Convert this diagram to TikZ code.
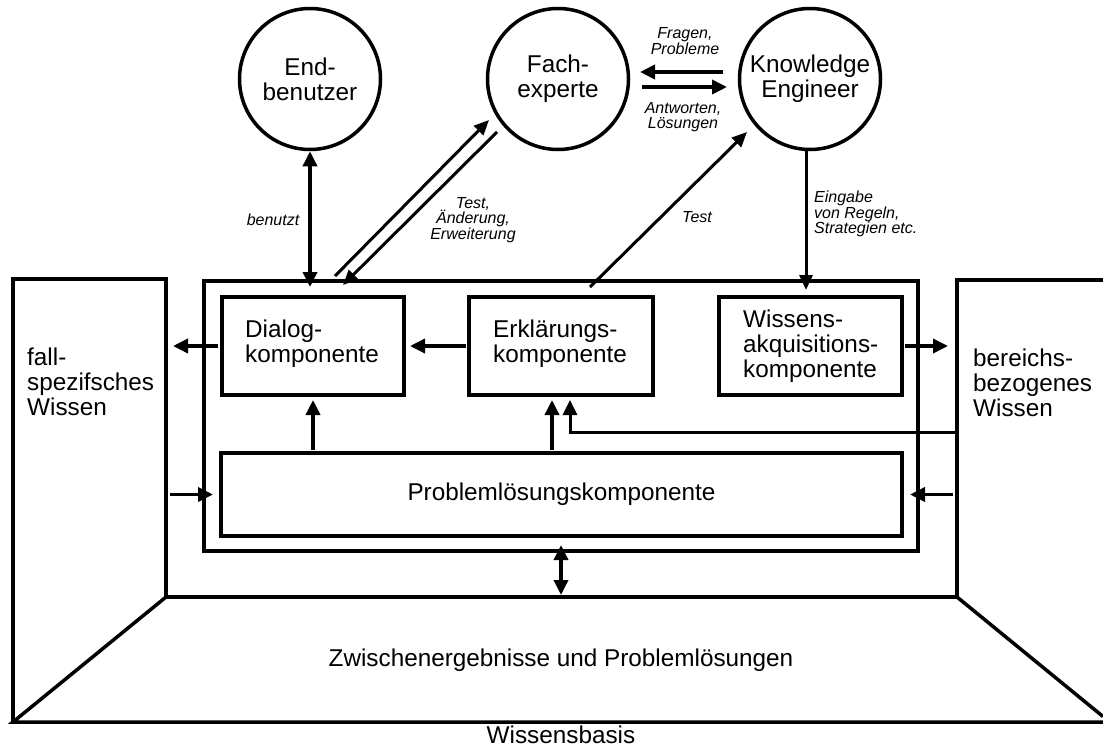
\documentclass[tikz,border=0pt]{standalone}
\usepackage{fontspec}
\setmainfont{Liberation Sans}
\usetikzlibrary{arrows.meta,calc}
\begin{document}
\begin{tikzpicture}[x=1pt,y=-1pt,
  lw/.style={line width=3.5pt},
  box/.style={draw,lw,rectangle,inner sep=0pt,outer sep=0pt},
  circ/.style={draw,lw,circle,minimum size=141pt,inner sep=0pt,align=center,font=\fontsize{24.3}{25}\selectfont},
  txt/.style={align=left,anchor=west,inner sep=0pt,font=\fontsize{24.3}{25}\selectfont},
  ctxt/.style={align=center,inner sep=0pt,font=\fontsize{24.3}{25}\selectfont},
  lbl/.style={inner sep=0pt,font=\fontsize{16}{15.5}\selectfont\itshape},
  arr/.style={line width=3.5pt,-{Triangle[length=15pt,width=14pt]}},
  darr/.style={line width=3.5pt,{Triangle[length=15pt,width=14pt]}-{Triangle[length=15pt,width=14pt]}},
  slim/.style={line width=3pt,-{Triangle[length=15pt,width=13pt]}}
]
\useasboundingbox (0,0) rectangle (1103,747);

% knowledge base (panels and floor)
\coordinate (fallR) at (166,279);
\coordinate (berL) at (957,280);
\draw[lw,line join=miter] (13,722) -- (13,279) -- (fallR) -- (166,597) -- (957,597) -- (berL) -- (1106,280);
\draw[lw] (166,597) -- (13,722) -- (1106,722);
\draw[lw] (957,597) -- (1103,716.5);
\node[txt] (fall) at (27,382) {fall-\\spezifsches\\Wissen};
\node[txt] (ber) at (973,383) {bereichs-\\bezogenes\\Wissen};
\node[ctxt] (zw) at (561,660) {Zwischenergebnisse und Probleml\"osungen};
\node[ctxt] (wb) at (561,735) {Wissensbasis};

% system box
\node[box,minimum width=714pt,minimum height=270pt] (sys) at (561,416) {};
\node[box,minimum width=182pt,minimum height=98pt] (dialog) at (313,346) {};
\node[box,minimum width=184pt,minimum height=98pt] (erkl) at (561,346) {};
\node[box,minimum width=183pt,minimum height=98pt] (wiss) at (810.5,346) {};
\node[box,minimum width=681pt,minimum height=83pt] (prob) at (561.5,494.5) {};
\node[txt] (dialogT) at (245,344) {Dialog-\\komponente};
\node[txt] (erklT) at (493,344) {Erkl\"arungs-\\komponente};
\node[txt] (wissT) at (743,346) {Wissens-\\akquisitions-\\komponente};
\node[ctxt] (probT) at (561.5,494) {Probleml\"osungskomponente};

% persons
\node[circ] (end) at (310,79) {End-\\benutzer};
\node[circ] (fach) at (558,79) {Fach-\\experte};
\node[circ] (ke) at (810,79) {Knowledge\\Engineer};

% internal arrows
\draw[arr,shorten <=4pt,shorten >=7pt] (dialog.west) -- (dialog.west -| fallR);
\draw[arr,shorten <=3pt,shorten >=6pt] (erkl.west) -- (dialog.east);
\draw[arr,shorten <=3pt,shorten >=9pt] (wiss.east) -- (wiss.east -| berL);
\draw[arr,shorten <=3pt,shorten >=5pt] (dialog.south |- prob.north) -- (dialog.south);
\draw[arr,shorten <=3pt,shorten >=5pt] ([xshift=-9pt]erkl.south |- prob.north) -- ([xshift=-9pt]erkl.south);
\coordinate (berIn) at (957,432);
\draw[arr,line width=3pt,shorten >=5pt] (berIn) -| ([xshift=9pt]erkl.south);
\draw[arr,shorten <=4pt,shorten >=8pt] (prob.west -| fallR) -- (prob.west);
\draw[arr,shorten <=4pt,shorten >=8pt] (prob.east -| berL) -- (prob.east);
\draw[darr,shorten <=-6pt,shorten >=2pt] (sys.south) -- (sys.south |- 0,597);

% outer connectors
\draw[darr,shorten >=-6pt] (end.south) -- (end.south |- sys.north);
\coordinate (d1a) at (335,276);
\coordinate (d1b) at (489,120);
\coordinate (d2a) at (497,132);
\coordinate (d2b) at (343,285);
\draw[slim] (d1a) -- (d1b);
\draw[slim] (d2a) -- (d2b);
\coordinate (t1a) at (590,287);
\coordinate (t1b) at (747,132);
\draw[slim] (t1a) -- (t1b);
\draw[slim,shorten >=-9pt] ([xshift=-4pt]ke.south) -- ([xshift=-4pt]ke.south |- sys.north);
\coordinate (q1) at (723,72);
\coordinate (q2) at (640,72);
\coordinate (a1) at (642,87);
\coordinate (a2) at (727,87);
\draw[arr,line width=4pt] (q1) -- (q2);
\draw[arr,line width=4pt] (a1) -- (a2);

% labels
\node[lbl,align=center] (lq) at (685,41) {Fragen,\\Probleme};
\node[lbl,align=center] (la) at (683,117) {Antworten,\\L\"osungen};
\node[lbl] (lb) at (273,220) {benutzt};
\node[lbl,align=center] (lt) at (473,220) {Test,\\\"Anderung,\\Erweiterung};
\node[lbl] (lt2) at (697,217) {Test};
\node[lbl,align=left,anchor=west] (le) at (814,214) {Eingabe\\von Regeln,\\Strategien etc.};
\end{tikzpicture}
\end{document}
